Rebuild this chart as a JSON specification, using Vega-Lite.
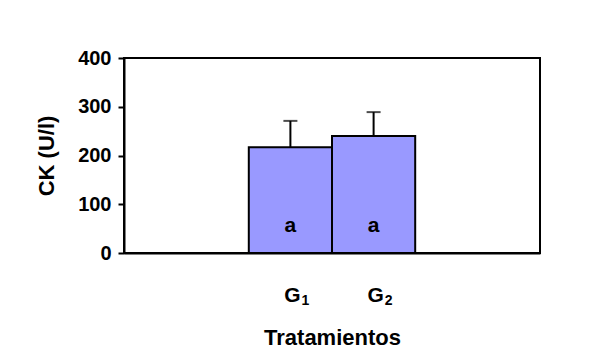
{
  "$schema": "https://vega.github.io/schema/vega-lite/v6.json",
  "width": 416,
  "height": 195,
  "autosize": "none",
  "padding": {"left": 124, "top": 58, "right": 56, "bottom": 105},
  "background": "white",
  "config": {
    "font": "Liberation Sans",
    "view": {"stroke": "black", "strokeWidth": 2},
    "axis": {"domainColor": "black", "domainWidth": 2, "tickColor": "black", "tickWidth": 2, "grid": false,
             "labelFont": "Liberation Sans", "titleFont": "Liberation Sans", "labelFontWeight": "bold", "titleFontWeight": "bold",
             "labelColor": "black", "titleColor": "black"}
  },
  "data": {"values": [
    {"grupo": "G1", "letraG": "G", "sub": "1", "ck": 217, "sup": 271, "letra": "a"},
    {"grupo": "G2", "letraG": "G", "sub": "2", "ck": 240, "sup": 289, "letra": "a"}
  ]},
  "encoding": {
    "x": {"field": "grupo", "type": "nominal", "sort": null,
          "scale": {"domain": ["", "G1", "G2", " "], "paddingInner": 0, "paddingOuter": 0.5},
          "axis": {"title": "Tratamientos", "labels": false, "ticks": false,
                   "titleFontSize": 22, "titlePadding": 74}}
  },
  "layer": [
    {"mark": {"type": "rule", "color": "black", "strokeWidth": 2},
     "encoding": {"y": {"field": "ck", "type": "quantitative"}, "y2": {"field": "sup"}}},
    {"mark": {"type": "tick", "color": "black", "thickness": 2, "size": 14, "orient": "horizontal"},
     "encoding": {"y": {"field": "sup", "type": "quantitative"}}},
    {"mark": {"type": "bar", "fill": "#9999FF", "stroke": "black", "strokeWidth": 2},
     "encoding": {"y": {"field": "ck", "type": "quantitative",
                        "scale": {"domain": [0, 400], "nice": false},
                        "axis": {"values": [0, 100, 200, 300, 400], "title": "CK (U/l)", "tickSize": 6, "labelPadding": 7,
                                 "labelFontSize": 20, "titleFontSize": 22, "titlePadding": 19}}}},
    {"mark": {"type": "text", "fontWeight": "bold", "fontSize": 21, "color": "black", "baseline": "alphabetic", "dy": -21},
     "encoding": {"y": {"datum": 0, "type": "quantitative"}, "text": {"field": "letra"}}},
    {"mark": {"type": "text", "fontWeight": "bold", "fontSize": 21, "color": "black", "baseline": "alphabetic", "dx": 2, "dy": 49},
     "encoding": {"y": {"datum": 0, "type": "quantitative"}, "text": {"field": "letraG"}}},
    {"mark": {"type": "text", "fontWeight": "bold", "fontSize": 14, "color": "black", "baseline": "alphabetic", "dx": 15, "dy": 52},
     "encoding": {"y": {"datum": 0, "type": "quantitative"}, "text": {"field": "sub"}}}
  ]
}
